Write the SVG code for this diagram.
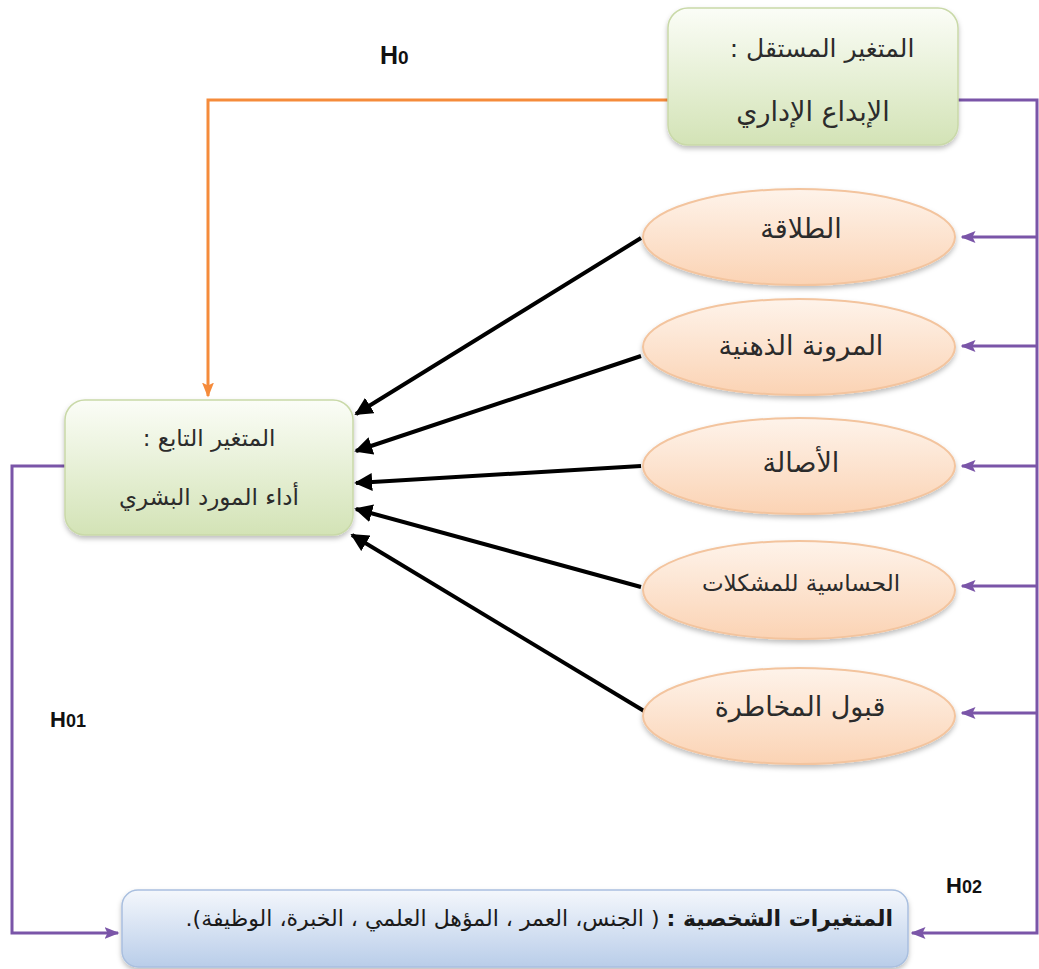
<svg xmlns="http://www.w3.org/2000/svg" width="1039" height="969" viewBox="0 0 1039 969">
<defs>
<linearGradient id="gGreen" x1="0" y1="0" x2="0" y2="1">
<stop offset="0" stop-color="#fbfdf7"/>
<stop offset="1" stop-color="#d3e3b6"/>
</linearGradient>
<linearGradient id="gBlue" x1="0" y1="0" x2="0" y2="1">
<stop offset="0" stop-color="#f4f7fc"/>
<stop offset="1" stop-color="#b9cde9"/>
</linearGradient>
<linearGradient id="gPeach" x1="0" y1="0" x2="0" y2="1">
<stop offset="0" stop-color="#fef3ea"/>
<stop offset="1" stop-color="#fbd3b4"/>
</linearGradient>
<filter id="sh" x="-10%" y="-10%" width="120%" height="130%">
<feDropShadow dx="0" dy="3" stdDeviation="2.5" flood-color="#000" flood-opacity="0.25"/>
</filter>
<marker id="aBlack" viewBox="0 0 10 10" refX="9" refY="5" markerWidth="4.5" markerHeight="4.5" orient="auto" markerUnits="strokeWidth">
<path d="M0,0 L10,5 L0,10 z" fill="#000"/>
</marker>
<marker id="aPurple" viewBox="0 0 10 10" refX="9" refY="5" markerWidth="5" markerHeight="5" orient="auto" markerUnits="strokeWidth">
<path d="M0,1 L10,5 L0,9 L2,5 z" fill="#7a55a8"/>
</marker>
<marker id="aOrange" viewBox="0 0 10 10" refX="9" refY="5" markerWidth="5" markerHeight="5" orient="auto" markerUnits="strokeWidth">
<path d="M0,1 L10,5 L0,9 L2,5 z" fill="#f58b3b"/>
</marker>
</defs>
<style>
.box{stroke:#c9d9a8;stroke-width:1.5;filter:url(#sh)}
.ell{fill:url(#gPeach);stroke:#f3c49e;stroke-width:2;filter:url(#sh)}
.t{font-family:"DejaVu Sans",sans-serif;fill:#2b2b2b;text-anchor:middle}
.h{font-family:"Liberation Sans",Arial,sans-serif;font-weight:bold;fill:#111}
.pur{stroke:#7a55a8;stroke-width:3;fill:none}
.blk{stroke:#000;stroke-width:4;fill:none}
.org{stroke:#f58b3b;stroke-width:3;fill:none}
</style>

<g id="connectors">
<polyline class="org" points="668,100 208,100 208,396" marker-end="url(#aOrange)"/>
<polyline class="pur" points="958,100 1037,100 1037,933 912,933" marker-end="url(#aPurple)"/>
<line class="pur" x1="1037" y1="237" x2="962" y2="237" marker-end="url(#aPurple)"/>
<line class="pur" x1="1037" y1="346" x2="962" y2="346" marker-end="url(#aPurple)"/>
<line class="pur" x1="1037" y1="466" x2="962" y2="466" marker-end="url(#aPurple)"/>
<line class="pur" x1="1037" y1="586" x2="962" y2="586" marker-end="url(#aPurple)"/>
<line class="pur" x1="1037" y1="713" x2="962" y2="713" marker-end="url(#aPurple)"/>
<polyline class="pur" points="65,466 12,466 12,933 118,933" marker-end="url(#aPurple)"/>
<line class="blk" x1="641" y1="238" x2="356" y2="414" marker-end="url(#aBlack)"/>
<line class="blk" x1="641" y1="356" x2="356" y2="451" marker-end="url(#aBlack)"/>
<line class="blk" x1="641" y1="466" x2="356" y2="483" marker-end="url(#aBlack)"/>
<line class="blk" x1="641" y1="587" x2="356" y2="509" marker-end="url(#aBlack)"/>
<line class="blk" x1="654" y1="717" x2="352" y2="535" marker-end="url(#aBlack)"/>
</g>

<g id="independent">
<rect class="box" x="668" y="8" width="290" height="137" rx="20" fill="url(#gGreen)"/>
<text class="t" x="822" y="57" font-size="25" direction="rtl">المتغير المستقل :</text>
<text class="t" x="813" y="121" font-size="27" direction="rtl">الإبداع الإداري</text>
</g>

<g id="dependent">
<rect class="box" x="65" y="400" width="288" height="135" rx="20" fill="url(#gGreen)"/>
<text class="t" x="209" y="446" font-size="23" direction="rtl">المتغير التابع :</text>
<text class="t" x="209" y="505" font-size="23" direction="rtl">أداء المورد البشري</text>
</g>

<g id="fluency">
<ellipse class="ell" cx="799" cy="237" rx="156" ry="48"/>
<text class="t" x="801" y="238" font-size="27" direction="rtl">الطلاقة</text>
</g>
<g id="flexibility">
<ellipse class="ell" cx="799" cy="347" rx="156" ry="48"/>
<text class="t" x="801" y="355" font-size="27" direction="rtl">المرونة الذهنية</text>
</g>
<g id="originality">
<ellipse class="ell" cx="799" cy="466" rx="156" ry="48"/>
<text class="t" x="801" y="472" font-size="27" direction="rtl">الأصالة</text>
</g>
<g id="sensitivity">
<ellipse class="ell" cx="799" cy="590" rx="156" ry="49"/>
<text class="t" x="801" y="591" font-size="23" direction="rtl">الحساسية للمشكلات</text>
</g>
<g id="risk">
<ellipse class="ell" cx="799" cy="716" rx="156" ry="48"/>
<text class="t" x="800" y="716" font-size="27" direction="rtl">قبول المخاطرة</text>
</g>

<g id="personal">
<rect x="122" y="890" width="786" height="77" rx="16" fill="url(#gBlue)" stroke="#a9bfdf" stroke-width="1.5" filter="url(#sh)"/>
<text x="893" y="926" font-size="22" direction="rtl" text-anchor="start" font-family="DejaVu Sans,sans-serif" fill="#1a1a1a"><tspan font-weight="bold">المتغيرات الشخصية :</tspan> ( الجنس، العمر ، المؤهل العلمي ، الخبرة، الوظيفة).</text>
</g>

<g id="labels">
<text class="h" x="380" y="64" font-size="25">H<tspan font-size="19">0</tspan></text>
<text class="h" x="50" y="727" font-size="22">H<tspan font-size="18">01</tspan></text>
<text class="h" x="946" y="893" font-size="22">H<tspan font-size="18">02</tspan></text>
</g>
</svg>
